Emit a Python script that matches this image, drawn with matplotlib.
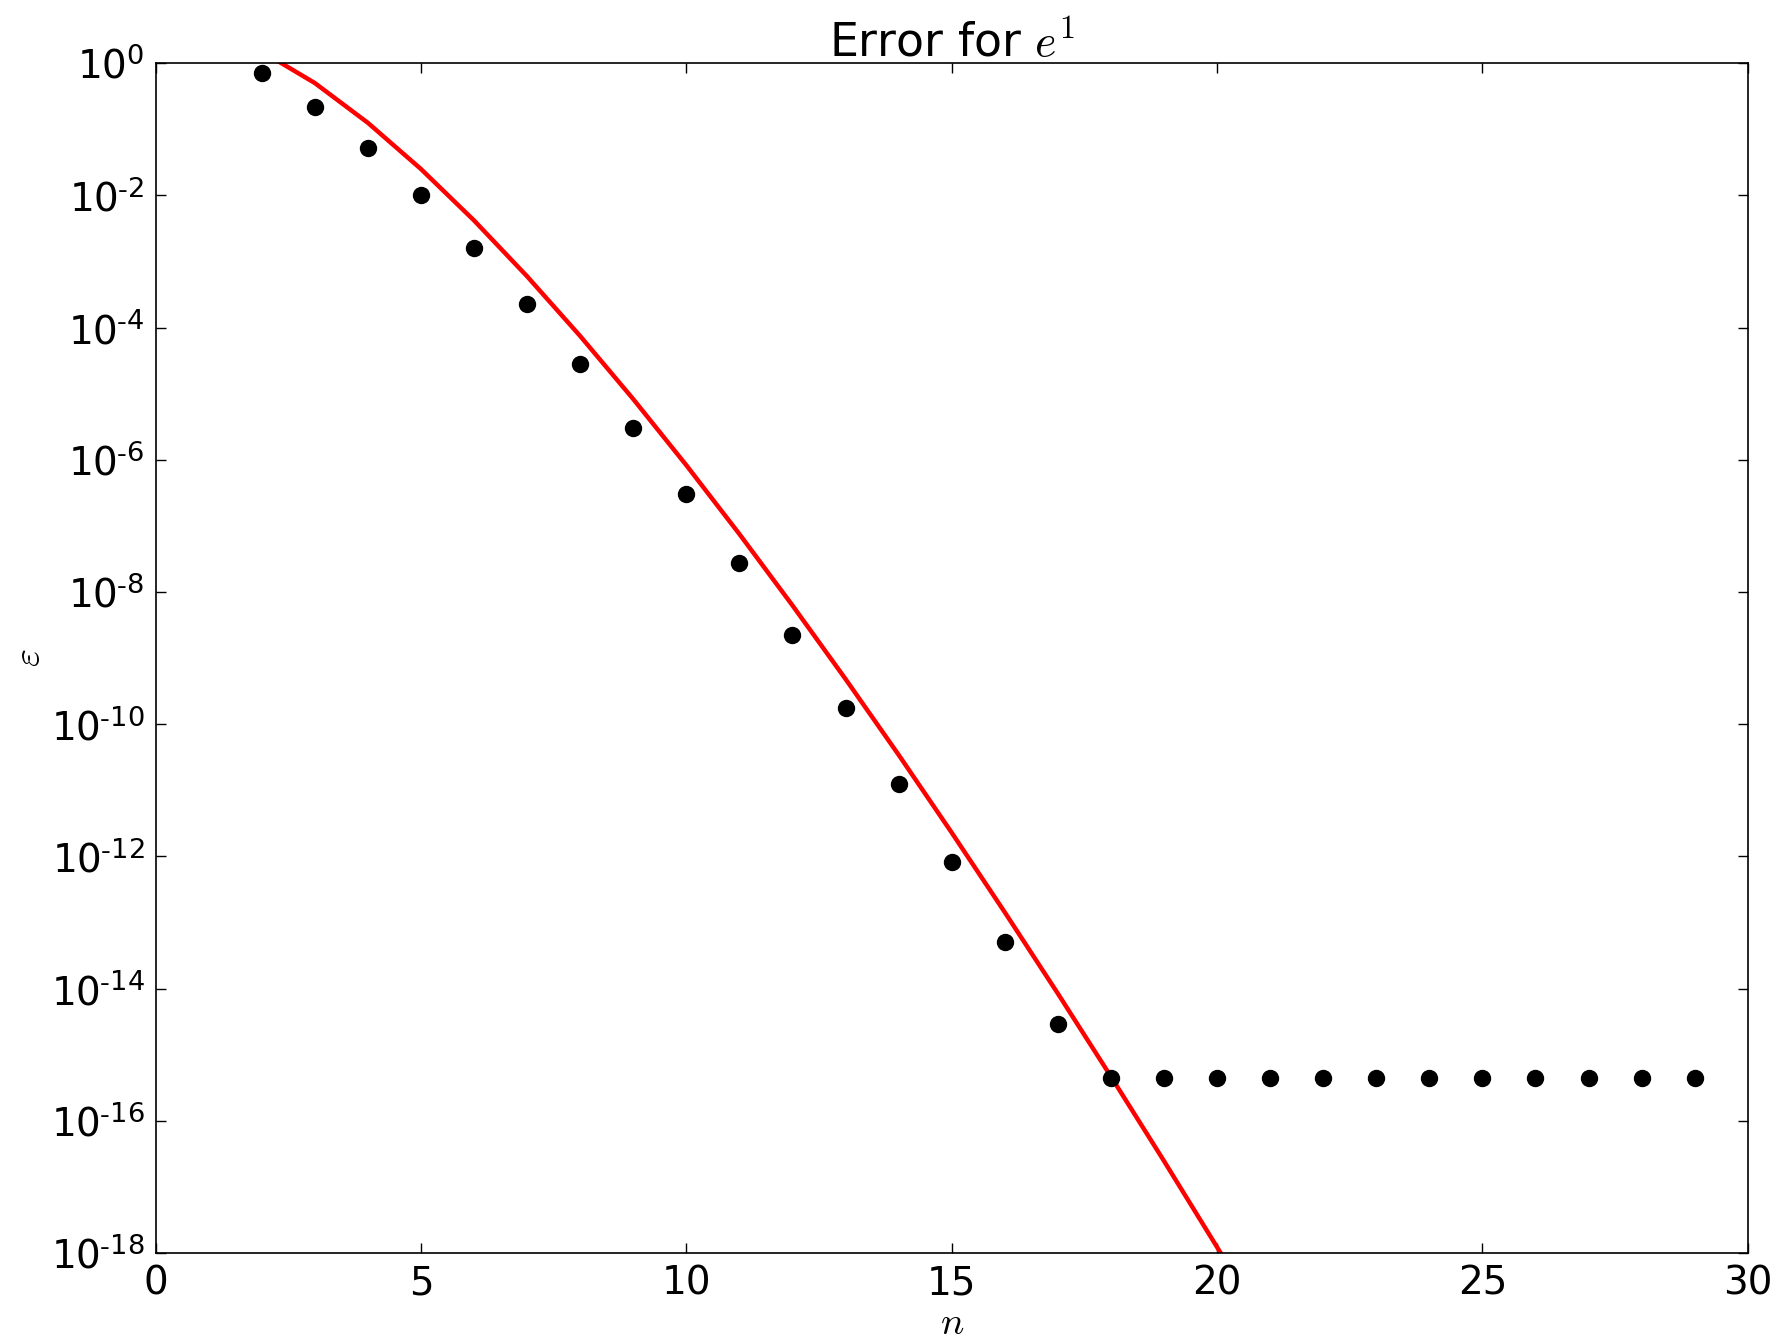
import numpy as np
import matplotlib
matplotlib.use('Agg')
import matplotlib.pyplot as plt
from matplotlib.ticker import FuncFormatter

plt.rcParams['mathtext.fontset'] = 'cm'
plt.rcParams['font.family'] = 'DejaVu Sans'

# measured error of the partial sums (dots)
n_err = np.arange(2, 30)
err = [0.718, 0.218, 0.0516, 0.00995, 0.00161, 2.26e-4, 2.79e-5, 3.06e-6,
       3.03e-7, 2.73e-8, 2.26e-9, 1.73e-10, 1.23e-11, 8.2e-13, 5.1e-14,
       2.9e-15, 4.44e-16, 4.44e-16, 4.44e-16, 4.44e-16, 4.44e-16, 4.44e-16,
       4.44e-16, 4.44e-16, 4.44e-16, 4.44e-16, 4.44e-16, 4.44e-16]

# error bound (red line)
n_bound = np.arange(2, 23)
bound = [1.5, 0.5, 0.125, 0.025, 4.17e-3, 5.95e-4, 7.44e-5, 8.27e-6,
         8.27e-7, 7.52e-8, 6.26e-9, 4.82e-10, 3.44e-11, 2.29e-12, 1.43e-13,
         8.43e-15, 4.68e-16, 2.47e-17, 1.23e-18, 5.87e-20, 2.67e-21]

ytick_exp = list(range(-18, 1, 2))


def logfmt(y, pos):
    k = int(round(np.log10(y)))
    if k < 0:
        return r'$\mathdefault{10^{\text{-}%d}}$' % (-k)
    return r'$\mathdefault{10^{%d}}$' % k


fig = plt.figure(figsize=(17.78, 13.43), dpi=100)
ax = fig.add_axes([0.0875, 0.067, 0.8955, 0.886])

ax.semilogy(n_bound, bound, color='red', linewidth=3.2)
ax.semilogy(n_err, err, 'ko', markersize=11.5)

ax.set_xlim(0, 30)
ax.set_ylim(1e-18, 1e0)
ax.set_yticks([10.0**k for k in ytick_exp])
ax.yaxis.set_major_formatter(FuncFormatter(logfmt))
ax.minorticks_off()
ax.tick_params(direction='in', top=True, right=True, labelsize=28,
               length=7, width=1, pad=8)
for s in ax.spines.values():
    s.set_linewidth(1.2)

ax.set_xlabel('$n$', fontsize=28, labelpad=1)
ax.set_ylabel(r'$\varepsilon$', fontsize=28, labelpad=2)
ax.set_title('Error for $e^1$', fontsize=33, pad=5)

fig.savefig('out.png', dpi=100)
